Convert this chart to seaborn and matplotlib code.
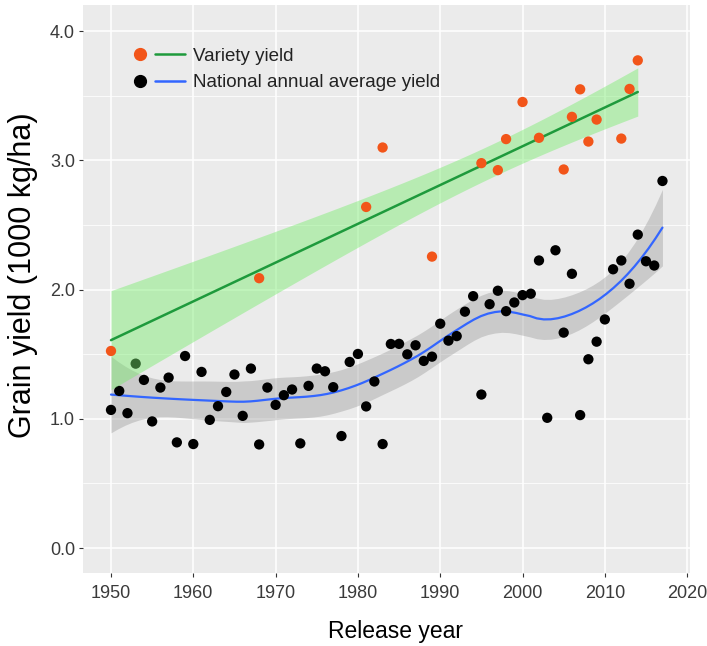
import numpy as np
import pandas as pd
import matplotlib
matplotlib.use("Agg")
import matplotlib.pyplot as plt
import seaborn as sns
from matplotlib.lines import Line2D
from matplotlib.legend_handler import HandlerTuple

# ---------------- data ----------------
national_years = list(range(1950, 2018))
national_yield = [
    1.069, 1.216, 1.044, 1.427, 1.301, 0.980, 1.242, 1.319, 0.818, 1.486,
    0.805, 1.363, 0.992, 1.098, 1.208, 1.343, 1.023, 1.389, 0.802, 1.242,
    1.108, 1.183, 1.227, 0.810, 1.255, 1.389, 1.368, 1.245, 0.867, 1.440,
    1.502, 1.096, 1.289, 0.805, 1.579, 1.580, 1.499, 1.569, 1.448, 1.481,
    1.736, 1.605, 1.640, 1.829, 1.949, 1.188, 1.887, 1.991, 1.833, 1.900,
    1.957, 1.968, 2.225, 1.008, 2.304, 1.667, 2.122, 1.029, 1.461, 1.597,
    1.769, 2.157, 2.225, 2.045, 2.425, 2.219, 2.186, 2.840,
]
variety_years = [1950, 1968, 1981, 1983, 1989, 1995, 1997, 1998, 2000,
                 2002, 2005, 2006, 2007, 2008, 2009, 2012, 2013, 2014]
variety_yield = [1.525, 2.088, 2.639, 3.099, 2.255, 2.978, 2.924, 3.164, 3.451,
                 3.174, 2.929, 3.336, 3.549, 3.145, 3.315, 3.168, 3.552, 3.773]

x_ticks = [1950, 1960, 1970, 1980, 1990, 2000, 2010, 2020]
y_ticks = [0.0, 1.0, 2.0, 3.0, 4.0]
y_tick_labels = ["0.0", "1.0", "2.0", "3.0", "4.0"]
y_minor = [0.5, 1.5, 2.5, 3.5]
legend_labels = ["Variety yield", "National annual average yield"]

nat = pd.DataFrame({"year": national_years, "yield": national_yield})
var = pd.DataFrame({"year": variety_years, "yield": variety_yield})


def t975(df):
    z = 1.959964
    return (z + (z ** 3 + z) / (4 * df)
            + (5 * z ** 5 + 16 * z ** 3 + 3 * z) / (96 * df ** 2))


# ---------------- loess (local quadratic, tricube) with SE ----------------
def loess_rows(x, xq, span):
    n = len(x)
    q = int(np.floor(n * span))
    rows = []
    for x0 in xq:
        d = np.abs(x - x0)
        h = np.sort(d)[q - 1]
        u = np.clip(d / h, 0, 1)
        w = (1 - u ** 3) ** 3
        X = np.column_stack([np.ones(n), x - x0, (x - x0) ** 2])
        XtW = X.T * w
        A = np.linalg.solve(XtW @ X, XtW)
        rows.append(A[0])
    return np.array(rows)


SPAN = 0.5
xn = nat["year"].to_numpy(float)
yn = nat["yield"].to_numpy(float)
grid = np.linspace(xn.min(), xn.max(), 80)
Lg = loess_rows(xn, grid, SPAN)
Ld = loess_rows(xn, xn, SPAN)
fit = Lg @ yn
R = np.eye(len(xn)) - Ld
RtR = R.T @ R
d1 = np.trace(RtR)
d2 = np.trace(RtR @ RtR)
sigma = np.sqrt(np.sum((R @ yn) ** 2) / d1)
se = sigma * np.sqrt(np.sum(Lg ** 2, axis=1))
tq = t975(d1 ** 2 / d2)
smooth = pd.DataFrame({"year": grid, "fit": fit,
                       "lo": fit - tq * se, "hi": fit + tq * se})

# ---------------- linear fit with analytic 95% CI ----------------
xv = var["year"].to_numpy(float)
yv = var["yield"].to_numpy(float)
nv = len(xv)
b1, b0 = np.polyfit(xv, yv, 1)
res = yv - (b0 + b1 * xv)
s = np.sqrt(np.sum(res ** 2) / (nv - 2))
gv = np.linspace(xv.min(), xv.max(), 80)
fv = b0 + b1 * gv
sev = s * np.sqrt(1 / nv + (gv - xv.mean()) ** 2 / np.sum((xv - xv.mean()) ** 2))
tv = t975(nv - 2)
lin = pd.DataFrame({"year": gv, "fit": fv, "lo": fv - tv * sev, "hi": fv + tv * sev})

# ---------------- style ----------------
sns.set_theme(style="darkgrid", rc={
    "axes.facecolor": "#EBEBEB",
    "figure.facecolor": "white",
    "grid.color": "white",
    "axes.edgecolor": "none",
    "xtick.bottom": True, "ytick.left": True,
    "xtick.color": "#333333", "ytick.color": "#333333",
})
plt.rcParams["font.family"] = ["Liberation Sans", "DejaVu Sans"]

fig = plt.figure(figsize=(7.07, 6.46), dpi=100)
ax = fig.add_axes([0.118, 0.1135, 0.858, 0.8785])

# grey band + blue loess
ax.fill_between(smooth["year"], smooth["lo"], smooth["hi"], color="#999999",
                alpha=0.4, lw=0, zorder=1)
sns.lineplot(data=smooth, x="year", y="fit", ax=ax, color="#3366FF", lw=1.6, zorder=2)

# national points
sns.scatterplot(data=nat, x="year", y="yield", ax=ax, color="black", s=55,
                edgecolor="none", zorder=3)

# variety linear fit with band
ax.fill_between(lin["year"], lin["lo"], lin["hi"], color="#78EB6E",
                alpha=0.45, lw=0, zorder=4)
sns.lineplot(data=lin, x="year", y="fit", ax=ax, color="#1E9A3C", lw=1.8, zorder=5)

sns.scatterplot(data=var, x="year", y="yield", ax=ax, color="#F25519", s=55,
                edgecolor="none", zorder=6)

# ---------------- axes ----------------
ax.set_xlim(1946.65, 2020.35)
ax.set_ylim(-0.19, 4.2)
ax.set_xticks(x_ticks)
ax.set_xticklabels([str(t) for t in x_ticks])
ax.set_yticks(y_ticks)
ax.set_yticklabels(y_tick_labels)
ax.set_yticks(y_minor, minor=True)
ax.grid(True, which="major", color="white", lw=1.1)
ax.grid(True, which="minor", axis="y", color="white", lw=0.55)
ax.grid(False, which="minor", axis="x")
ax.tick_params(axis="both", which="major", length=3, width=0.8, color="#333333",
               labelsize=13, labelcolor="#3a3a3a")
ax.tick_params(axis="x", pad=6)
ax.tick_params(axis="y", pad=3)
ax.tick_params(which="minor", length=0)

ax.set_xlabel("Release year", fontsize=16.5, color="black")
ax.xaxis.label.set_va("center")
ax.xaxis.set_label_coords(0.515, -0.1045)
ax.set_ylabel("Grain yield (1000 kg/ha)", fontsize=22, color="black")
ax.yaxis.label.set_va("center")
ax.yaxis.set_label_coords(-0.1, 0.524)

# ---------------- legend ----------------
h1 = (Line2D([], [], marker="o", ls="none", color="#F25519", ms=8.5),
      Line2D([], [], color="#1E9A3C", lw=1.8))
h2 = (Line2D([], [], marker="o", ls="none", color="black", ms=8.5),
      Line2D([], [], color="#3366FF", lw=1.8))
leg = ax.legend([h1, h2], legend_labels,
                handler_map={tuple: HandlerTuple(ndivide=None, pad=0)},
                loc="upper left", bbox_to_anchor=(0.0687, 0.925),
                frameon=False, fontsize=13.5, handlelength=3.2,
                handletextpad=0.42, labelspacing=0.5, borderpad=0,
                borderaxespad=0)
for t in leg.get_texts():
    t.set_color("#222222")

fig.savefig("out.png", dpi=100)
